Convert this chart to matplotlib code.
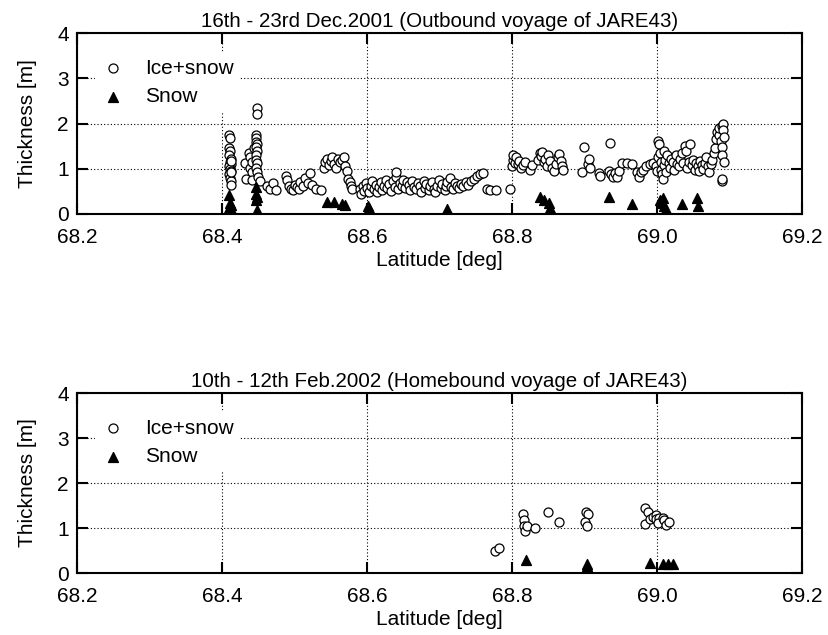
import matplotlib
matplotlib.use("Agg")
import matplotlib.pyplot as plt
import numpy as np

plt.rcParams['font.family'] = ['Liberation Sans', 'DejaVu Sans']

titles = ["16th - 23rd Dec.2001 (Outbound voyage of JARE43)",
          "10th - 12th Feb.2002 (Homebound voyage of JARE43)"]
x_ticks = [68.2, 68.4, 68.6, 68.8, 69.0, 69.2]
x_tick_labels = ["68.2", "68.4", "68.6", "68.8", "69.0", "69.2"]
y_ticks = [0, 1, 2, 3, 4]

# ---- Outbound voyage (top panel) ----
out_ice_lat = [
    68.410, 68.411, 68.410, 68.411, 68.410, 68.412, 68.411, 68.412, 68.410, 68.411, 68.412, 68.410, 68.411, 68.412, 68.413, 68.413, 68.413,
    68.432, 68.433, 68.437, 68.438, 68.439, 68.441, 68.442, 68.441, 68.444,
    68.447, 68.447, 68.447, 68.448, 68.447, 68.448, 68.447, 68.447, 68.448, 68.447, 68.448, 68.449, 68.448, 68.448, 68.452,
    68.462, 68.466, 68.470, 68.475, 68.488, 68.490, 68.493, 68.495, 68.498, 68.500, 68.503, 68.506, 68.508, 68.512, 68.515, 68.518, 68.521, 68.524, 68.530, 68.537,
    68.540, 68.542, 68.545, 68.547, 68.550, 68.552, 68.555, 68.557, 68.560, 68.563, 68.566, 68.568, 68.570, 68.572, 68.574, 68.576, 68.578, 68.580,
    68.590, 68.592, 68.594, 68.596, 68.598, 68.600, 68.603, 68.605, 68.607, 68.610, 68.612, 68.614, 68.617, 68.619, 68.621, 68.624, 68.626, 68.628,
    68.631, 68.633, 68.636, 68.638, 68.640, 68.643, 68.645, 68.648, 68.650, 68.653, 68.655, 68.658, 68.660, 68.662, 68.665, 68.667, 68.670, 68.673,
    68.675, 68.678, 68.680, 68.682, 68.685, 68.687, 68.690, 68.692, 68.694, 68.697, 68.699, 68.702, 68.704, 68.707, 68.709, 68.711, 68.714, 68.716,
    68.719, 68.721, 68.724, 68.727, 68.730, 68.733, 68.736, 68.740, 68.744, 68.748, 68.752, 68.756, 68.760, 68.766, 68.770, 68.778, 68.797, 68.640,
    68.800, 68.801, 68.802, 68.804, 68.806, 68.808, 68.810, 68.812, 68.815, 68.818,
    68.825, 68.827, 68.836, 68.838, 68.840, 68.842, 68.844, 68.846, 68.848, 68.850, 68.852, 68.855, 68.858, 68.861, 68.863, 68.865, 68.867, 68.869, 68.870,
    68.897, 68.900, 68.905, 68.906, 68.908, 68.920, 68.922, 68.935, 68.934, 68.936, 68.939, 68.942, 68.945, 68.948, 68.952, 68.958, 68.965, 68.972,
    68.975, 68.978, 68.981, 68.985, 68.990, 68.994, 68.998, 69.000, 69.001, 69.002, 69.003, 69.004, 69.005, 69.006, 69.007, 69.008, 69.009, 69.010,
    69.011, 69.012, 69.014, 69.016, 69.018, 69.020, 69.022, 69.024, 69.026, 69.028, 69.030, 69.032, 69.034, 69.036, 69.038, 69.040, 69.042, 69.044,
    69.046, 69.048, 69.050, 69.052, 69.054, 69.056, 69.058, 69.060, 69.062, 69.064, 69.066, 69.068, 69.070, 69.072, 69.074, 69.076, 69.078, 69.080,
    69.082, 69.083, 69.085, 69.086, 69.088, 69.089, 69.090, 69.090, 69.091, 69.091, 69.092, 69.092, 69.089, 69.089,
]
out_ice_thk = [
    1.75, 1.68, 1.45, 1.40, 1.30, 1.22, 1.15, 1.10, 1.05, 1.00, 0.95, 0.88, 0.80, 0.72, 0.65, 1.18, 0.92,
    1.12, 0.78, 1.35, 1.25, 1.02, 1.15, 0.92, 0.75, 1.45,
    1.75, 1.68, 1.60, 1.55, 1.48, 1.40, 1.30, 1.20, 1.12, 1.02, 0.92, 0.82, 2.34, 2.21, 0.72,
    0.62, 0.55, 0.68, 0.52, 0.85, 0.75, 0.62, 0.55, 0.52, 0.65, 0.60, 0.55, 0.70, 0.62, 0.80, 0.68, 0.90, 0.65, 0.55, 0.52,
    1.02, 1.15, 1.22, 1.08, 1.18, 1.25, 1.10, 1.02, 1.22, 1.15, 1.20, 1.25, 1.05, 0.95, 0.78, 0.70, 0.62, 0.55,
    0.55, 0.45, 0.62, 0.50, 0.68, 0.58, 0.48, 0.62, 0.72, 0.55, 0.65, 0.48, 0.60, 0.70, 0.52, 0.62, 0.75, 0.58,
    0.66, 0.50, 0.72, 0.60, 0.82, 0.55, 0.68, 0.62, 0.75, 0.58, 0.70, 0.65, 0.52, 0.72, 0.60, 0.55, 0.68, 0.62,
    0.48, 0.72, 0.58, 0.66, 0.52, 0.62, 0.70, 0.55, 0.48, 0.62, 0.75, 0.58, 0.66, 0.52, 0.62, 0.70, 0.80, 0.60,
    0.55, 0.68, 0.62, 0.58, 0.66, 0.62, 0.70, 0.65, 0.72, 0.78, 0.85, 0.88, 0.90, 0.55, 0.52, 0.52, 0.55, 0.93,
    1.05, 1.20, 1.30, 1.12, 1.25, 1.10, 1.18, 1.02, 1.08, 1.15,
    0.98, 1.08, 1.20, 1.35, 1.28, 1.38, 1.15, 1.22, 1.05, 1.30, 1.18, 1.02, 0.95, 1.10, 1.25, 1.32, 1.18, 1.05, 0.98,
    0.93, 1.48, 1.10, 1.22, 1.02, 0.90, 0.85, 1.57, 0.95, 0.88, 0.82, 0.90, 0.82, 0.95, 1.12, 1.12, 1.10, 0.93,
    0.82, 0.92, 0.98, 1.05, 1.10, 1.12, 1.05, 0.95, 1.25, 1.62, 1.55, 1.35, 1.15, 0.98, 0.88, 0.78, 1.40, 1.08,
    1.20, 0.92, 1.30, 1.12, 1.02, 1.22, 1.15, 0.98, 1.30, 1.10, 1.05, 1.22, 1.35, 1.12, 1.50, 1.40, 1.02, 1.15,
    1.55, 1.08, 1.20, 0.98, 1.12, 1.05, 0.95, 1.18, 1.08, 1.00, 1.12, 1.25, 1.05, 0.92, 1.10, 1.20, 1.35, 1.45,
    1.65, 1.82, 1.75, 1.90, 1.62, 1.48, 1.30, 1.95, 2.00, 1.85, 1.70, 1.15, 0.72, 0.78,
]
out_snow_lat = [68.410, 68.411, 68.412, 68.410, 68.412, 68.447, 68.447, 68.448, 68.447, 68.448,
                68.545, 68.555, 68.565, 68.570, 68.601, 68.603, 68.710,
                68.838, 68.844, 68.851, 68.853, 68.853, 68.934, 68.966,
                69.004, 69.006, 69.008, 69.010, 69.013, 69.035, 69.055, 69.057]
out_snow_thk = [0.42, 0.25, 0.20, 0.13, 0.10, 0.60, 0.45, 0.38, 0.30, 0.08,
                0.27, 0.27, 0.22, 0.20, 0.18, 0.13, 0.10,
                0.38, 0.32, 0.25, 0.14, 0.07, 0.38, 0.22,
                0.30, 0.25, 0.35, 0.18, 0.10, 0.22, 0.35, 0.18]

# ---- Homebound voyage (bottom panel) ----
home_ice_lat = [68.777, 68.782, 68.815, 68.816, 68.817, 68.818, 68.821, 68.832, 68.849, 68.865,
                68.902, 68.905, 68.901, 68.903,
                68.983, 68.987, 68.984, 68.990, 68.994, 68.998, 68.999, 69.003, 69.002, 69.008, 69.010, 69.013, 69.016]
home_ice_thk = [0.49, 0.55, 1.31, 1.18, 1.04, 0.93, 1.04, 1.00, 1.36, 1.13,
                1.36, 1.31, 1.13, 1.04,
                1.44, 1.36, 1.09, 1.20, 1.25, 1.29, 1.20, 1.22, 1.11, 1.22, 1.18, 1.07, 1.13]
home_snow_lat = [68.819, 68.903, 68.904, 68.990, 69.008, 69.015, 69.022]
home_snow_thk = [0.29, 0.20, 0.16, 0.22, 0.20, 0.20, 0.20]

panels = [
    (titles[0], out_ice_lat, out_ice_thk, out_snow_lat, out_snow_thk),
    (titles[1], home_ice_lat, home_ice_thk, home_snow_lat, home_snow_thk),
]

fig = plt.figure(figsize=(8.29, 6.35), dpi=100)
rects = [[0.0929, 0.663, 0.8745, 0.285], [0.0929, 0.0976, 0.8745, 0.2835]]

for rect, (title, il, it, sl, st) in zip(rects, panels):
    ax = fig.add_axes(rect)
    ax.scatter(il, it, s=42, facecolors='white', edgecolors='black', linewidths=0.9,
               marker='o', label='Ice+snow', zorder=3)
    ax.scatter(sl, st, s=50, color='black', marker='^', label='Snow', zorder=3)
    ax.set_xlim(68.2, 69.2)
    ax.set_ylim(0, 4)
    ax.set_xticks(x_ticks)
    ax.set_xticklabels(x_tick_labels)
    ax.set_yticks(y_ticks)
    ax.grid(True, linestyle=(0, (1, 2)), color='black', linewidth=0.8, zorder=1)
    ax.set_axisbelow(True)
    ax.tick_params(direction='in', length=8, width=1.5, top=True, right=True,
                   labelsize=15)
    ax.tick_params(axis='x', pad=10)
    ax.tick_params(axis='y', pad=6)
    for sp in ax.spines.values():
        sp.set_linewidth(1.5)
    ax.set_title(title, fontsize=14.8, pad=4)
    ax.set_xlabel('Latitude [deg]', fontsize=15, labelpad=3)
    ax.set_ylabel('Thickness [m]', fontsize=15, labelpad=14)
    leg = ax.legend(loc='upper left', bbox_to_anchor=(0.01, 0.95), fontsize=15,
                    frameon=True, framealpha=1, edgecolor='white', facecolor='white',
                    handlelength=1.2, handletextpad=0.9, labelspacing=0.45,
                    borderpad=0.3, scatterpoints=1)
    leg.get_frame().set_linewidth(0)
    leg.set_zorder(5)

fig.savefig('out.png', dpi=100)
